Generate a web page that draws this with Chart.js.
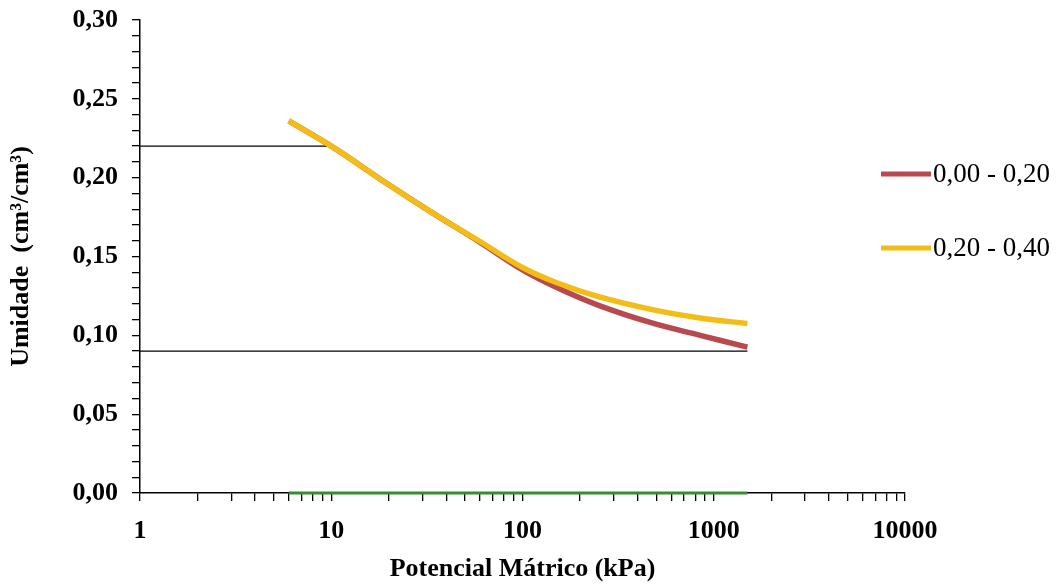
<!DOCTYPE html>
<html>
<head>
<meta charset="utf-8">
<script src="https://cdn.jsdelivr.net/npm/chart.js@4/dist/chart.umd.min.js"></script>
<style>
html,body{margin:0;padding:0;background:#fff;}
#wrap{position:relative;width:1062px;height:587px;}
</style>
</head>
<body>
<div id="wrap"><canvas id="c" width="1062" height="587"></canvas></div>
<script>
// ---- data ----
const kpa = [6, 10, 20, 33, 60, 100, 150, 250, 470, 850, 1500];
const depth0020 = [0.236, 0.220, 0.1955, 0.1785, 0.1590, 0.1415, 0.1305, 0.1190, 0.1080, 0.1000, 0.0925];
const depth2040 = [0.236, 0.220, 0.1955, 0.1785, 0.1595, 0.1430, 0.1335, 0.1245, 0.1165, 0.1110, 0.1075];
const seriesLabels = ["0,00 - 0,20", "0,20 - 0,40"];
const fcX = [1, 10];       const fcY = [0.22, 0.22];
const pmpX = [1, 1500];    const pmpY = [0.09, 0.09];
const baseX = [6, 1500];   const baseY = [0, 0];
const xTickDecades = [1, 10, 100, 1000, 10000];
const yMajorTicks = [0, 0.05, 0.10, 0.15, 0.20, 0.25, 0.30];

const pts = (xs, ys) => xs.map((x, i) => ({x: x, y: ys[i]}));
const SERIF = '"Liberation Serif", "Times New Roman", serif';
const RED = '#B84A4E', YEL = '#F4BC16';

const legendPlugin = {
  id: 'sideLegend',
  afterDraw(chart) {
    const ctx = chart.ctx;
    const items = [{c: RED, t: seriesLabels[0], y: 174}, {c: YEL, t: seriesLabels[1], y: 248}];
    ctx.save();
    items.forEach(it => {
      ctx.strokeStyle = it.c; ctx.lineWidth = 5; ctx.lineCap = 'butt';
      ctx.beginPath(); ctx.moveTo(881, it.y); ctx.lineTo(931, it.y); ctx.stroke();
      ctx.fillStyle = '#000'; ctx.font = '27px ' + SERIF; ctx.textBaseline = 'middle'; ctx.textAlign = 'left';
      ctx.fillText(it.t, 933, it.y + 1);
    });
    ctx.restore();
  }
};

new Chart(document.getElementById('c'), {
  type: 'line',
  data: {
    datasets: [
      {label: seriesLabels[1], data: pts(kpa, depth2040), borderColor: YEL, borderWidth: 5.5, pointRadius: 0, tension: 0.4, order: 0},
      {label: seriesLabels[0], data: pts(kpa, depth0020), borderColor: RED, borderWidth: 5.5, pointRadius: 0, tension: 0.4, order: 1},
      {label: 'cc', data: pts(fcX, fcY), borderColor: '#000', borderWidth: 1.3, pointRadius: 0, order: 3},
      {label: 'pmp', data: pts(pmpX, pmpY), borderColor: '#000', borderWidth: 1.3, pointRadius: 0, order: 3},
      {label: 'base', data: pts(baseX, baseY), borderColor: '#3A8A36', borderWidth: 3, pointRadius: 0, clip: false, order: 2}
    ]
  },
  options: {
    responsive: false,
    animation: false,
    events: [],
    layout: {padding: {left: 0, top: 20, right: 157, bottom: 0}},
    plugins: {legend: {display: false}, tooltip: {enabled: false}},
    scales: {
      x: {
        type: 'logarithmic', min: 1, max: 10000,
        afterFit: s => { s.height = 94; },
        afterBuildTicks: s => {
          const t = [];
          for (let d = 0; d < xTickDecades.length - 1; d++) {
            for (let k = 1; k < 10; k++) t.push({value: xTickDecades[d] * k});
          }
          t.push({value: xTickDecades[xTickDecades.length - 1]});
          s.ticks = t;
        },
        ticks: {
          autoSkip: false, maxRotation: 0, minRotation: 0, padding: 15, color: '#000',
          font: {family: SERIF, size: 26, weight: 'bold'},
          callback: v => xTickDecades.includes(v) ? String(v) : ''
        },
        grid: {drawOnChartArea: false, drawTicks: true, tickLength: 8, color: '#000', lineWidth: 1.3},
        border: {display: true, color: '#000', width: 1.5},
        title: {display: true, text: 'Potencial Mátrico (kPa)', color: '#000', font: {family: SERIF, size: 26, weight: 'bold'}, padding: {top: 0, bottom: 2}}
      },
      y: {
        type: 'linear', min: 0, max: 0.30,
        afterFit: s => { s.width = 140; s.paddingTop = 0; s.paddingBottom = 0; },
        afterBuildTicks: s => {
          const t = [];
          for (let i = 0; i <= 30; i++) t.push({value: i / 100});
          s.ticks = t;
        },
        ticks: {
          autoSkip: false, padding: 14, color: '#000',
          font: {family: SERIF, size: 26, weight: 'bold'},
          callback: v => yMajorTicks.some(m => Math.abs(m - v) < 1e-9) ? v.toFixed(2).replace('.', ',') : ''
        },
        grid: {drawOnChartArea: false, drawTicks: true, tickLength: 8, color: '#000', lineWidth: 1.3},
        border: {display: true, color: '#000', width: 1.5},
        title: {display: true, text: 'Umidade  (cm³/cm³)', color: '#000', font: {family: SERIF, size: 26, weight: 'bold'}, padding: {top: 6, bottom: 0}}
      }
    }
  },
  plugins: [legendPlugin]
});
</script>
</body>
</html>
